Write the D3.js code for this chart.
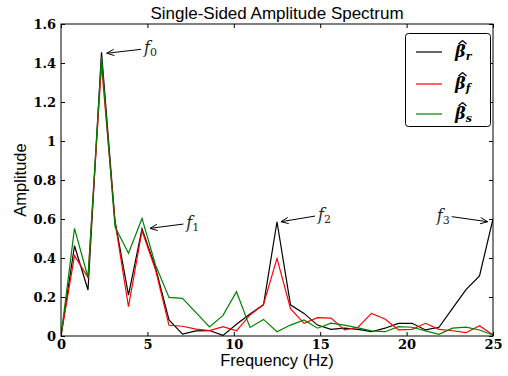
<!DOCTYPE html>
<html>
<head>
<meta charset="utf-8">
<script src="https://cdn.jsdelivr.net/npm/d3@7"></script>
<style>
  body { margin: 0; background: #fff; }
  svg { display: block; }
</style>
</head>
<body>
<svg id="chart" width="508" height="376"></svg>
<script>
// ---- data ----
const frequencies = [0, 0.781, 1.563, 2.344, 3.125, 3.906, 4.688, 5.469, 6.25, 7.031, 7.813, 8.594, 9.375, 10.156, 10.938, 11.719, 12.5, 13.281, 14.063, 14.844, 15.625, 16.406, 17.188, 17.969, 18.75, 19.531, 20.313, 21.094, 21.875, 22.656, 23.438, 24.219, 25];
const betaR = [0, 0.463, 0.236, 1.455, 0.59, 0.21, 0.55, 0.35, 0.082, 0.01, 0.026, 0.028, 0.003, 0.06, 0.113, 0.16, 0.586, 0.16, 0.116, 0.056, 0.034, 0.04, 0.034, 0.022, 0.04, 0.065, 0.065, 0.031, 0.045, 0.142, 0.238, 0.308, 0.6];
const betaF = [0, 0.412, 0.30, 1.39, 0.585, 0.15, 0.54, 0.34, 0.055, 0.05, 0.035, 0.028, 0.048, 0.026, 0.108, 0.162, 0.398, 0.14, 0.065, 0.094, 0.092, 0.031, 0.045, 0.116, 0.087, 0.031, 0.034, 0.065, 0.034, 0.027, 0.017, 0.053, 0.005];
const betaS = [0, 0.552, 0.30, 1.43, 0.56, 0.424, 0.603, 0.364, 0.198, 0.193, 0.12, 0.046, 0.106, 0.227, 0.044, 0.085, 0.022, 0.056, 0.082, 0.04, 0.066, 0.056, 0.042, 0.026, 0.022, 0.048, 0.045, 0.026, 0.009, 0.04, 0.045, 0.031, 0.005];
const seriesNames = ["r", "f", "s"];
const seriesColors = ["#000000", "#ff0000", "#008000"];
const xTicks = [0, 5, 10, 15, 20, 25];
const yTicks = [0, 0.2, 0.4, 0.6, 0.8, 1, 1.2, 1.4, 1.6];
const yTickLabels = ["0", "0.2", "0.4", "0.6", "0.8", "1", "1.2", "1.4", "1.6"];
// annotations: label subscript, arrow tip (freq, amp), arrow tail (freq, amp), text side
const annSubs = ["0", "1", "2", "3"];
const annTip = [[2.645, 1.45], [5.15, 0.552], [12.73, 0.586], [24.69, 0.586]];
const annTail = [[4.63, 1.47], [7.08, 0.574], [14.70, 0.615], [22.61, 0.612]];
const annSide = ["right", "right", "right", "left"];

// ---- layout ----
const svg = d3.select("#chart");
const L = 61, R = 493, T = 24, B = 336;
const x = d3.scaleLinear().domain([0, 25]).range([L, R]);
const y = d3.scaleLinear().domain([0, 1.6]).range([B, T]);

const tickFont = "'DejaVu Serif', serif";
const sansFont = "'Liberation Sans', Arial, sans-serif";

// title
svg.append("text").attr("x", (L + R) / 2).attr("y", 19)
  .attr("text-anchor", "middle").attr("font-family", sansFont).attr("font-size", 17)
  .text("Single-Sided Amplitude Spectrum");

// axis labels
svg.append("text").attr("x", (L + R) / 2).attr("y", 366)
  .attr("text-anchor", "middle").attr("font-family", sansFont).attr("font-size", 16.5)
  .text("Frequency (Hz)");
svg.append("text").attr("transform", `translate(26,${(T + B) / 2}) rotate(-90)`)
  .attr("text-anchor", "middle").attr("font-family", sansFont).attr("font-size", 16.5)
  .text("Amplitude");

// clip
svg.append("clipPath").attr("id", "clip").append("rect")
  .attr("x", L).attr("y", T - 2).attr("width", R - L).attr("height", B - T + 2);

// lines
const allSeries = [betaR, betaF, betaS];
const line = d3.line().x((d, i) => x(frequencies[i])).y(d => y(d));
const g = svg.append("g").attr("clip-path", "url(#clip)");
allSeries.forEach((s, i) => {
  g.append("path").datum(s).attr("d", line).attr("fill", "none")
    .attr("stroke", seriesColors[i]).attr("stroke-width", 1.2).attr("stroke-linejoin", "miter");
});

// axes with inward ticks on all sides
const tl = 4;
const xb = d3.axisBottom(x).tickValues(xTicks).tickSize(-tl).tickPadding(4).tickFormat(d3.format("d"));
const xt = d3.axisTop(x).tickValues(xTicks).tickSize(-tl).tickFormat("");
const yl = d3.axisLeft(y).tickValues(yTicks).tickSize(-tl).tickPadding(5).tickFormat((d, i) => yTickLabels[i]);
const yr = d3.axisRight(y).tickValues(yTicks).tickSize(-tl).tickFormat("");
function styleAxis(sel) {
  sel.select(".domain").remove();
  sel.selectAll(".tick line").attr("stroke", "#000").attr("stroke-width", 1);
  sel.selectAll(".tick text").attr("font-family", tickFont).attr("font-weight", "bold")
    .attr("font-size", 13).attr("fill", "#000");
}
svg.append("g").attr("transform", `translate(0,${B})`).call(xb).call(styleAxis);
svg.append("g").attr("transform", `translate(0,${T})`).call(xt).call(styleAxis);
svg.append("g").attr("transform", `translate(${L},0)`).call(yl).call(styleAxis);
svg.append("g").attr("transform", `translate(${R},0)`).call(yr).call(styleAxis);

// frame
svg.append("rect").attr("x", L).attr("y", T).attr("width", R - L).attr("height", B - T)
  .attr("fill", "none").attr("stroke", "#000").attr("stroke-width", 1);

// annotations
const serif = "'DejaVu Serif', 'Liberation Serif', serif";
annSubs.forEach((sub, i) => {
  const tx = x(annTip[i][0]), ty = y(annTip[i][1]);
  const sx = x(annTail[i][0]), sy = y(annTail[i][1]);
  svg.append("line").attr("x1", sx).attr("y1", sy).attr("x2", tx).attr("y2", ty)
    .attr("stroke", "#000").attr("stroke-width", 1);
  const ang = Math.atan2(ty - sy, tx - sx);
  const hl = 8, ha = 0.4;
  const p1 = [tx - hl * Math.cos(ang - ha), ty - hl * Math.sin(ang - ha)];
  const p2 = [tx - hl * Math.cos(ang + ha), ty - hl * Math.sin(ang + ha)];
  svg.append("path").attr("d", `M${p1[0]},${p1[1]}L${tx},${ty}L${p2[0]},${p2[1]}`)
    .attr("fill", "none").attr("stroke", "#000").attr("stroke-width", 1);
  const t = svg.append("text")
    .attr("x", annSide[i] === "right" ? sx + 3 : sx - 2)
    .attr("y", sy + 4)
    .attr("text-anchor", annSide[i] === "right" ? "start" : "end")
    .attr("font-family", serif).attr("font-size", 16).attr("fill", "#222");
  t.append("tspan").attr("font-style", "italic").text("f");
  t.append("tspan").attr("font-size", 11).attr("dy", 3).text(sub);
});

// legend
const lg = svg.append("g");
lg.append("rect").attr("x", 405.5).attr("y", 33.5).attr("width", 85).attr("height", 93)
  .attr("rx", 3).attr("fill", "#fff").attr("stroke", "#000").attr("stroke-width", 1);
const legY = [52, 84, 114];
seriesNames.forEach((nm, i) => {
  lg.append("line").attr("x1", 416).attr("x2", 442).attr("y1", legY[i]).attr("y2", legY[i])
    .attr("stroke", seriesColors[i]).attr("stroke-width", 1.2);
  const t = lg.append("text").attr("x", 455).attr("y", legY[i] + 5)
    .attr("font-family", serif).attr("font-size", 16).attr("font-weight", "bold").attr("font-style", "italic");
  t.append("tspan").text("\u03B2");
  t.append("tspan").attr("font-size", 11).attr("dy", 3).text(nm);
  // hat accent over beta
  lg.append("path")
    .attr("d", `M${458.5},${legY[i] - 8}L${462.5},${legY[i] - 11.5}L${466.5},${legY[i] - 8}`)
    .attr("fill", "none").attr("stroke", "#000").attr("stroke-width", 1.3);
});
</script>
</body>
</html>
